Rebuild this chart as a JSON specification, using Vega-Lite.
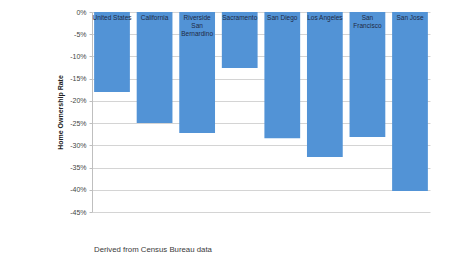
{
  "$schema": "https://vega.github.io/schema/vega-lite/v6.json",
  "width": 338,
  "height": 200,
  "autosize": "none",
  "padding": {"left": 92, "top": 12, "right": 19, "bottom": 45},
  "background": "white",
  "config": {
    "view": {"stroke": null},
    "font": "Liberation Sans",
    "axisY": {
      "labelOverlap": false,
      "labelBound": false,
      "labelFlush": false,
      "titleFontSize": 7,
      "titleFontWeight": "bold",
      "titleColor": "#222222",
      "titlePadding": 6,
      "labelFontSize": 7,
      "labelColor": "#444444",
      "labelPadding": 3,
      "tickSize": 3,
      "tickColor": "#bfbfbf",
      "domainColor": "#bfbfbf",
      "gridColor": "#d4d4d4",
      "grid": true
    }
  },
  "title": {
    "text": "Derived from Census Bureau data",
    "orient": "bottom",
    "anchor": "start",
    "frame": "group",
    "offset": 31,
    "fontSize": 7.8,
    "fontWeight": "normal",
    "color": "#3a3a3a",
    "font": "Liberation Sans",
    "dx": 2
  },
  "data": {
    "values": [
      {"area": "United States", "label": "United States", "rate": -0.18},
      {"area": "California", "label": "California", "rate": -0.25},
      {"area": "Riverside San Bernardino", "label": "Riverside\nSan\nBernardino", "rate": -0.272},
      {"area": "Sacramento", "label": "Sacramento", "rate": -0.126},
      {"area": "San Diego", "label": "San Diego", "rate": -0.284},
      {"area": "Los Angeles", "label": "Los Angeles", "rate": -0.326},
      {"area": "San Francisco", "label": "San\nFrancisco", "rate": -0.281},
      {"area": "San Jose", "label": "San Jose", "rate": -0.403}
    ]
  },
  "encoding": {
    "x": {
      "field": "area",
      "type": "nominal",
      "sort": null,
      "axis": null,
      "scale": {"paddingInner": 0.16, "paddingOuter": 0.05}
    }
  },
  "layer": [
    {
      "mark": {"type": "bar", "color": "#5293d6"},
      "encoding": {
        "y": {
          "field": "rate",
          "type": "quantitative",
          "scale": {"domain": [-0.45, 0], "nice": false},
          "axis": {
            "values": [0, -0.05, -0.1, -0.15, -0.2, -0.25, -0.3, -0.35, -0.4, -0.45],
            "labelExpr": "round(datum.value*100) + '%'",
            "title": "Home Ownership Rate"
          }
        }
      }
    },
    {
      "mark": {
        "type": "text",
        "baseline": "top",
        "dy": 3,
        "fontSize": 6.5,
        "color": "#1f2a44",
        "lineBreak": "\n",
        "lineHeight": 8
      },
      "encoding": {
        "y": {
          "datum": 0,
          "type": "quantitative",
          "axis": {
            "values": [0, -0.05, -0.1, -0.15, -0.2, -0.25, -0.3, -0.35, -0.4, -0.45],
            "labelExpr": "round(datum.value*100) + '%'",
            "title": "Home Ownership Rate"
          }
        },
        "text": {"field": "label"}
      }
    }
  ]
}
